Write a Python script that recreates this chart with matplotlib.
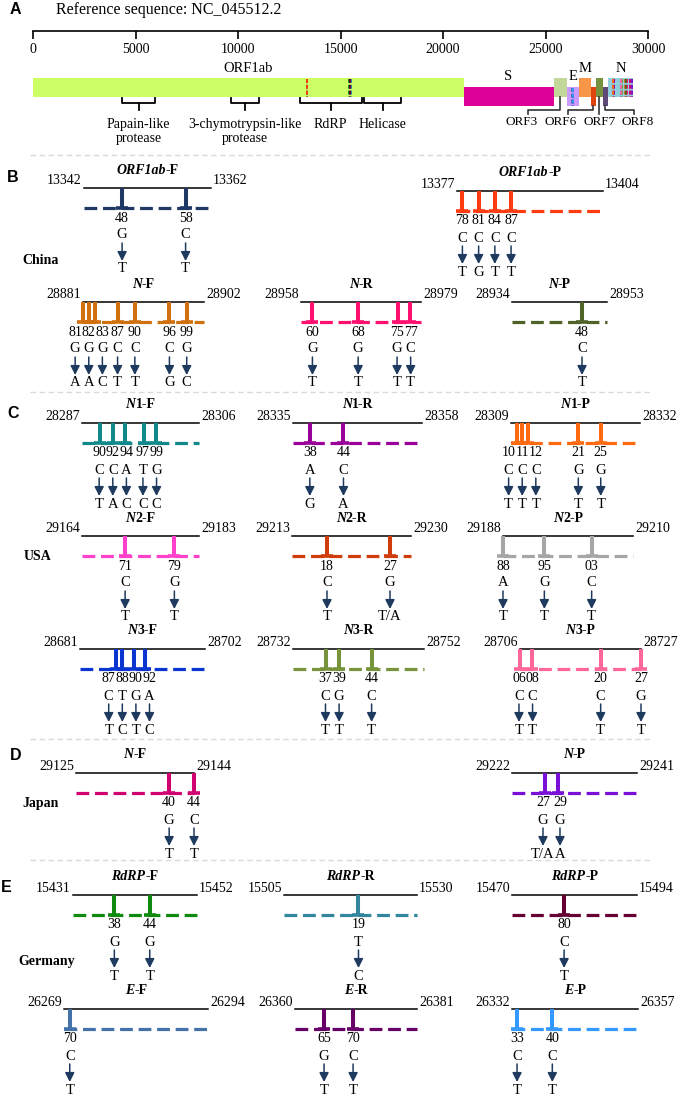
import matplotlib
matplotlib.use('Agg')
import matplotlib.pyplot as plt
from matplotlib.offsetbox import TextArea, HPacker, AnnotationBbox

W, H = 685, 1098
SERIF = 'Liberation Serif'
plt.rcParams['font.family'] = [SERIF, 'DejaVu Serif']
plt.rcParams['font.size'] = 10

# ---------------- data: genome map (panel A) ----------------
gene_names = ['ORF1ab', 'S', 'ORF3', 'E', 'M', 'ORF6', 'ORF7', 'ORF8', 'N']
gene_start = [0, 21000, 25400, 26050, 26630, 27220, 27460, 27800, 28050]
gene_end = [21000, 25400, 26050, 26630, 27220, 27460, 27800, 28050, 29270]
gene_colors = ['#CCFF66', '#DD0099', '#C4D79B', '#CC99FF', '#F79646',
               '#E0440E', '#76923C', '#5F497A', '#92CDDC']
gene_row = [0, 1, 0, 1, 0, 1, 0, 1, 0]
gene_label_below = [False, False, True, False, False, True, True, True, False]
orf_label_x = {'ORF3': 23850, 'ORF6': 25750, 'ORF7': 27630, 'ORF8': 29500}
orf_conn_x = {'ORF3': 24150, 'ORF6': 26100, 'ORF7': 27630, 'ORF8': 29320}

domain_names = ['Papain-like\nprotease', '3-chymotrypsin-like\nprotease', 'RdRP', 'Helicase']
domain_start = [4350, 9650, 13000, 16150]
domain_end = [5950, 11000, 16050, 17950]

# ---------------- data: primers (panels B-E) ----------------
primer_gene = ['ORF1ab', 'ORF1ab', 'N', 'N', 'N', 'N', 'N', 'N', 'N', 'N', 'N',
               'N', 'N', 'N', 'N', 'N', 'RdRP', 'RdRP', 'RdRP', 'E', 'E', 'E']
primer_suffix = ['-F', '-P', '-F', '-R', '-P', '1-F', '1-R', '1-P', '2-F', '2-R', '2-P',
                 '3-F', '3-R', '3-P', '-F', '-P', '-F', '-R', '-P', '-F', '-R', '-P']
primer_start = [13342, 13377, 28881, 28958, 28934, 28287, 28335, 28309, 29164, 29213, 29188,
                28681, 28732, 28706, 29125, 29222, 15431, 15505, 15470, 26269, 26360, 26332]
primer_end = [13362, 13404, 28902, 28979, 28953, 28306, 28358, 28332, 29183, 29230, 29210,
              28702, 28752, 28727, 29144, 29241, 15452, 15530, 15494, 26294, 26381, 26357]
mut_pos = [
    [13348, 13358],
    [13378, 13381, 13384, 13387],
    [28881, 28882, 28883, 28887, 28890, 28896, 28899],
    [28960, 28968, 28975, 28977],
    [28948],
    [28290, 28292, 28294, 28297, 28299],
    [28338, 28344],
    [28310, 28311, 28312, 28321, 28325],
    [29171, 29179],
    [29218, 29227],
    [29188, 29195, 29203],
    [28687, 28688, 28690, 28692],
    [28737, 28739, 28744],
    [28706, 28708, 28720, 28727],
    [29140, 29144],
    [29227, 29229],
    [15438, 15444],
    [15519],
    [15480],
    [26270],
    [26365, 26370],
    [26333, 26340],
]
ref_base = [['G', 'C'], ['C', 'C', 'C', 'C'], ['G', 'G', 'G', 'C', 'C', 'C', 'G'],
            ['G', 'G', 'G', 'C'], ['C'], ['C', 'C', 'A', 'T', 'G'], ['A', 'C'],
            ['C', 'C', 'C', 'G', 'G'], ['C', 'G'], ['C', 'G'], ['A', 'G', 'C'],
            ['C', 'T', 'G', 'A'], ['C', 'G', 'C'], ['C', 'C', 'C', 'G'], ['G', 'C'],
            ['G', 'G'], ['G', 'G'], ['T'], ['C'], ['C'], ['G', 'C'], ['C', 'C']]
alt_base = [['T', 'T'], ['T', 'G', 'T', 'T'], ['A', 'A', 'C', 'T', 'T', 'G', 'C'],
            ['T', 'T', 'T', 'T'], ['T'], ['T', 'A', 'C', 'C', 'C'], ['G', 'A'],
            ['T', 'T', 'T', 'T', 'T'], ['T', 'T'], ['T', 'T/A'], ['T', 'T', 'T'],
            ['T', 'C', 'T', 'C'], ['T', 'T', 'T'], ['T', 'T', 'T', 'T'], ['T', 'T'],
            ['T/A', 'A'], ['T', 'T'], ['C'], ['T'], ['T'], ['T', 'T'], ['T', 'T']]
primer_colors = ['#1F3864', '#FF3B0F', '#D0700F', '#FF1070', '#4F6228', '#11898A', '#990099',
                 '#FF6A10', '#FF40CC', '#D03C0C', '#A6A6A6', '#0A35D0', '#77933C', '#FF6699',
                 '#D00070', '#7A10D8', '#0F8A0F', '#31859C', '#660033', '#4472A8', '#660066',
                 '#3399FF']

# layout (pixels): primer line extent and row
primer_x0 = [84, 457, 83, 301, 512, 82, 293, 511, 82, 292, 503, 80, 293, 520, 76, 512, 73, 284, 512, 64, 295, 512]
primer_x1 = [211, 603, 204, 421, 607, 199, 422, 640, 199, 411, 633, 205, 424, 641, 194, 637, 197, 417, 637, 208, 417, 638]
primer_y = [188, 191, 302, 302, 302, 423, 423, 423, 536, 536, 536, 649, 649, 649, 773, 773, 895, 895, 895, 1009, 1009, 1009]

countries = ['China', 'USA', 'Japan', 'Germany']
country_xy = [(41, 261), (38, 557), (41, 803), (47, 962)]
panel_letters = ['A', 'B', 'C', 'D', 'E']
panel_xy = [(10, 9), (7, 177), (7, 413), (10, 756), (1, 888)]
separators_y = [155, 392, 739, 860]

ARROW_C = '#1F3A5F'


def rect(x0, y0, x1, y1):
    return [x0 / W, 1 - y1 / H, (x1 - x0) / W, (y1 - y0) / H]


def spread(xs, widths):
    # push label columns apart so neighbouring labels do not collide
    out = [float(v) for v in xs]
    for _ in range(300):
        moved = False
        for i in range(1, len(out)):
            gap = max(13, (widths[i - 1] + widths[i]) / 2)
            d = out[i] - out[i - 1]
            if d < gap - 1e-6:
                push = (gap - d) / 2
                out[i - 1] -= push
                out[i] += push
                moved = True
        if not moved:
            break
    return out


fig = plt.figure(figsize=(W / 100, H / 100), dpi=100)

# layout axis in pixel units
lay = fig.add_axes([0, 0, 1, 1])
lay.set_xlim(0, W)
lay.set_ylim(H, 0)
lay.axis('off')

for y in separators_y:
    lay.plot([30, 652], [y, y], color='#D9D9D9', lw=1, ls=(0, (4, 2.5)))
for lt, (x, y) in zip(panel_letters, panel_xy):
    lay.text(x, y, lt, ha='left', va='center', fontsize=11.5, fontweight='bold',
             family='Liberation Sans')
for c, (x, y) in zip(countries, country_xy):
    lay.text(x, y, c, ha='center', va='center', fontsize=10, fontweight='bold')
lay.text(56, 10, 'Reference sequence: NC_045512.2', ha='left', va='center', fontsize=11.5)

# ---------------- panel A ----------------
axA = fig.add_axes(rect(33, 0, 648, 155))
axA.set_xlim(0, 30000)
axA.set_ylim(155, 0)
axA.patch.set_visible(False)
for s in ['left', 'right', 'top']:
    axA.spines[s].set_visible(False)
axA.spines['bottom'].set_position(('data', 31))
axA.spines['bottom'].set_linewidth(1.2)
axA.set_xticks(range(0, 30001, 5000))
axA.tick_params(axis='x', direction='out', length=5.5, width=1.2, labelsize=10, pad=3)
axA.set_yticks([])

gene_top = {}
for name, s, e, c, row, below in zip(gene_names, gene_start, gene_end, gene_colors,
                                     gene_row, gene_label_below):
    top = 78 if row == 0 else 87
    gene_top[name] = (s, e, top)
    axA.broken_barh([(s, e - s)], (top, 19), facecolors=c)
    cx = (s + e) / 2
    if not below:
        axA.text(cx, top - 10, name, ha='center', va='center', fontsize=10.5)
    else:
        bottom = top + 19
        lx, ex = orf_label_x[name], orf_conn_x[name]
        if abs(ex - cx) < 50:
            axA.plot([cx, cx], [bottom, 114], color='#333333', lw=1.2)
        else:
            axA.plot([cx, cx, ex, ex], [bottom, 110, 110, 114], color='#333333', lw=1.2)
        axA.text(lx, 122, name, ha='center', va='center', fontsize=9.5)

# primer sites marked on the genome
for st, c in zip(primer_start, primer_colors):
    for name, (s, e, top) in gene_top.items():
        if s <= st <= e:
            axA.vlines(st, top + 0.5, top + 18.5, colors=c, lw=1.4, linestyles=(0, (2, 1)))
            break

for name, s, e in zip(domain_names, domain_start, domain_end):
    cx = (s + e) / 2
    axA.plot([s, s, e, e], [98, 103, 103, 98], color='black', lw=1.3)
    axA.plot([cx, cx], [103, 110], color='black', lw=1.3)
    axA.text(cx, 118, name, ha='center', va='top', fontsize=10, linespacing=1.1)

# ---------------- panels B-E: primers ----------------
DASH_Y, NUM_Y, REF_Y, ARR0, ARR1, ALT_Y = 20, 30, 47, 55, 73, 81
for i in range(len(primer_gene)):
    st, en, c = primer_start[i], primer_end[i], primer_colors[i]
    x0, x1, y = primer_x0[i], primer_x1[i], primer_y[i]
    ax = fig.add_axes(rect(x0, y - 25, x1, y + 90))
    ax.set_xlim(st, en)
    ax.set_ylim(90, -25)
    ax.axis('off')

    ax.plot([st, en], [0, 0], color='black', lw=1.1, clip_on=False)
    ax.plot([st, en], [DASH_Y, DASH_Y], color=c, lw=2.3, ls=(0, (4, 1.8)), clip_on=False)
    pos = mut_pos[i]
    ax.vlines(pos, 0, DASH_Y, colors=c, lw=2.9, clip_on=False)
    ax.plot(pos, [DASH_Y] * len(pos), ls='none', marker='_', ms=8, mew=2.6, color=c,
            clip_on=False)

    ax.annotate(str(st), (st, -7), xytext=(-1.5, 0), textcoords='offset points',
                ha='right', va='center', fontsize=10, annotation_clip=False)
    ax.annotate(str(en), (en, -7), xytext=(1.5, 0), textcoords='offset points',
                ha='left', va='center', fontsize=10, annotation_clip=False)

    t1 = TextArea(primer_gene[i], textprops=dict(fontsize=10, fontweight='bold',
                                                 fontstyle='italic', family=SERIF))
    t2 = TextArea(primer_suffix[i], textprops=dict(fontsize=10, fontweight='bold',
                                                   family=SERIF))
    box = HPacker(children=[t1, t2], align='baseline', pad=0, sep=0)
    ab = AnnotationBbox(box, ((st + en) / 2, -18), xycoords='data', frameon=False,
                        box_alignment=(0.5, 0.5), annotation_clip=False)
    ax.add_artist(ab)

    # label columns, spread apart where sites are close together
    widths = [6.8 * max(2, len(a)) for a in alt_base[i]]
    px = [ax.transData.transform((p, 0))[0] for p in pos]
    px = spread(px, widths)
    inv = ax.transData.inverted()
    lx = [inv.transform((p, 0))[0] for p in px]
    for p, xl, rb, ab_ in zip(pos, lx, ref_base[i], alt_base[i]):
        ax.text(xl, NUM_Y, '%02d' % (p % 100), ha='center', va='center', fontsize=10)
        ax.text(xl, REF_Y, rb, ha='center', va='center', fontsize=10.5)
        ax.annotate('', xy=(xl, ARR1), xytext=(xl, ARR0), annotation_clip=False,
                    arrowprops=dict(arrowstyle='-|>,head_length=0.55,head_width=0.28',
                                    color=ARROW_C, lw=1.1, shrinkA=0, shrinkB=0))
        ax.text(xl, ALT_Y, ab_, ha='center', va='center', fontsize=10.5)

fig.savefig('out.png', dpi=100)
